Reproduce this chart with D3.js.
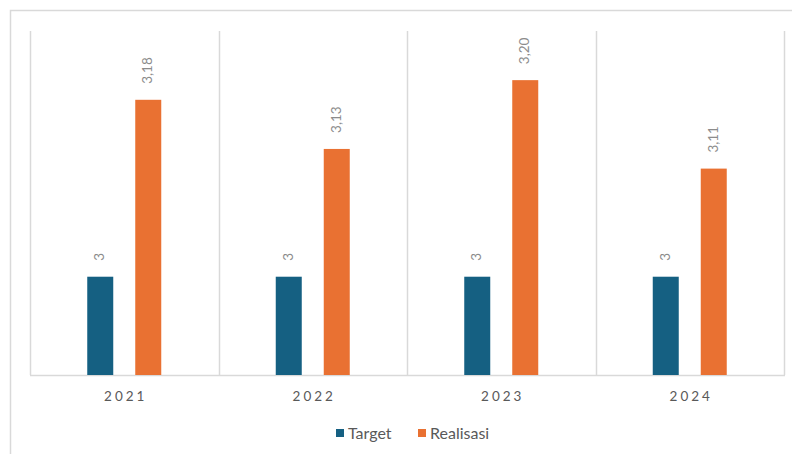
<!DOCTYPE html>
<html>
<head>
<meta charset="utf-8">
<script src="https://cdn.jsdelivr.net/npm/d3@7"></script>
<style>
  body { margin: 0; background: #fff; }
  text { font-family: Lato, "Open Sans", sans-serif; }
</style>
</head>
<body>
<div id="chart-area"></div>
<script>
// data
let years = ["2021", "2022", "2023", "2024"];
let series = ["Target", "Realisasi"];
let target = [3, 3, 3, 3];
let realisasi = [3.18, 3.13, 3.20, 3.11];
let realisasiLabels = ["3,18", "3,13", "3,20", "3,11"];
let targetLabels = ["3", "3", "3", "3"];
let colors = ["#156082", "#E97132"];

let svg = d3.select("#chart-area")
    .append("svg")
    .attr("width", 792)
    .attr("height", 454);

// outer chart border (cropped on right and bottom)
svg.append("rect")
    .attr("x", 10.5).attr("y", 10.5)
    .attr("width", 900).attr("height", 600)
    .attr("fill", "none")
    .attr("stroke", "#d9d9d9")
    .attr("stroke-width", 1.5);

let x0 = d3.scaleBand()
    .domain(years)
    .range([30, 784]);

let step = 48;
let x1 = d3.scaleBand()
    .domain(series)
    .range([0, x0.bandwidth()])
    .paddingInner(22 / step)
    .paddingOuter((x0.bandwidth() / step - 2 + 22 / step) / 2);

let y = d3.scaleLinear()
    .domain([2.9, 3.25])
    .range([375, 31]);

// vertical grid lines at category borders
let borders = years.map((d) => x0(d)).concat([x0.range()[1]]);
svg.selectAll("line.grid").data(borders).enter().append("line")
    .attr("class", "grid")
    .attr("x1", (d) => Math.round(d) + 0.5)
    .attr("x2", (d) => Math.round(d) + 0.5)
    .attr("y1", y(3.25))
    .attr("y2", y(2.9))
    .attr("stroke", "#d9d9d9")
    .attr("stroke-width", 1.5);

svg.append("line")
    .attr("x1", 30).attr("x2", 785)
    .attr("y1", y(2.9) + 0.5).attr("y2", y(2.9) + 0.5)
    .attr("stroke", "#d9d9d9")
    .attr("stroke-width", 1.5);

let rows = years.map(function (d, i) {
    return [
        { year: d, key: "Target", value: target[i], label: targetLabels[i], color: colors[0] },
        { year: d, key: "Realisasi", value: realisasi[i], label: realisasiLabels[i], color: colors[1] }
    ];
}).flat();

svg.selectAll("rect.bar").data(rows).enter().append("rect")
    .attr("class", "bar")
    .attr("x", (d) => x0(d.year) + x1(d.key))
    .attr("y", (d) => y(d.value))
    .attr("width", x1.bandwidth())
    .attr("height", (d) => y(2.9) - y(d.value))
    .attr("fill", (d) => d.color);

// rotated data labels
svg.selectAll("text.val").data(rows).enter().append("text")
    .attr("class", "val")
    .attr("transform", (d) => {
        let cx = x0(d.year) + x1(d.key) + x1.bandwidth() / 2;
        return "translate(" + (cx - 0.5) + "," + (y(d.value) - 16) + ") rotate(-90)";
    })
    .attr("dy", "0.35em")
    .attr("text-anchor", "start")
    .attr("font-size", 13.5)
    .attr("fill", "#8c8c8c")
    .text((d) => d.label);

// category labels
svg.selectAll("text.cat").data(years).enter().append("text")
    .attr("class", "cat")
    .attr("x", (d) => x0(d) + x0.bandwidth() / 2 + 1.5)
    .attr("y", 401)
    .attr("text-anchor", "middle")
    .attr("font-size", 13.5)
    .attr("letter-spacing", "3px")
    .attr("fill", "#595959")
    .text((d) => d);

// legend
let legend = [
    { name: "Target", color: colors[0], x: 336 },
    { name: "Realisasi", color: colors[1], x: 418 }
];
let lg = svg.selectAll("g.legend").data(legend).enter().append("g")
    .attr("class", "legend")
    .attr("transform", (d) => "translate(" + d.x + ",429)");
lg.append("rect")
    .attr("width", 8).attr("height", 8)
    .attr("fill", (d) => d.color);
lg.append("text")
    .attr("x", 12)
    .attr("y", 9.5)
    .attr("font-size", 16)
    .attr("fill", "#595959")
    .text((d) => d.name);
</script>
</body>
</html>
